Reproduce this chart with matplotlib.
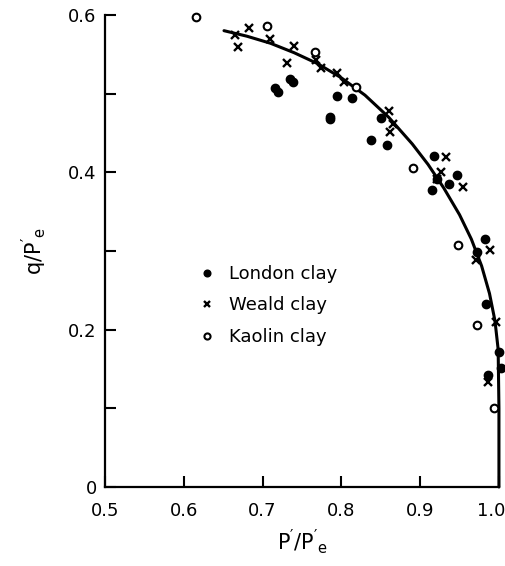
import matplotlib
matplotlib.use("Agg")
from matplotlib import pyplot as plt
from matplotlib.transforms import ScaledTranslation

# data (p'/pe', q/pe')
london_x = [0.716, 0.720, 0.735, 0.739, 0.794, 0.786, 0.814, 0.785, 0.850, 0.838, 0.858,
            0.917, 0.947, 0.937, 0.915, 0.921, 0.982, 0.972, 0.984, 1.000, 1.003, 0.986]
london_y = [0.507, 0.502, 0.519, 0.515, 0.497, 0.470, 0.494, 0.468, 0.469, 0.441, 0.435,
            0.421, 0.396, 0.385, 0.378, 0.392, 0.315, 0.299, 0.233, 0.171, 0.151, 0.142]

weald_x = [0.665, 0.669, 0.683, 0.709, 0.740, 0.731, 0.768, 0.774, 0.794, 0.803, 0.860,
           0.865, 0.862, 0.933, 0.926, 0.921, 0.955, 0.989, 0.971, 0.996, 0.986]
weald_y = [0.575, 0.559, 0.583, 0.570, 0.560, 0.539, 0.543, 0.532, 0.526, 0.515, 0.478,
           0.461, 0.451, 0.420, 0.401, 0.392, 0.381, 0.301, 0.289, 0.210, 0.133]

kaolin_x = [0.616, 0.706, 0.766, 0.819, 0.891, 0.948, 0.972, 0.994]
kaolin_y = [0.598, 0.586, 0.553, 0.509, 0.406, 0.307, 0.206, 0.100]

# state boundary curve
curve_x = [0.651, 0.680, 0.710, 0.740, 0.770, 0.800, 0.830, 0.860, 0.890, 0.910, 0.930,
           0.950, 0.965, 0.978, 0.988, 0.995, 0.999, 1.000, 1.000]
curve_y = [0.580, 0.573, 0.564, 0.552, 0.538, 0.520, 0.498, 0.470, 0.436, 0.410, 0.380,
           0.346, 0.315, 0.281, 0.246, 0.211, 0.175, 0.100, 0.000]

fig = plt.figure(figsize=(5.05, 5.66), dpi=100)
ax = fig.add_axes([0.208, 0.1396, 0.780, 0.834])

ax.plot(curve_x, curve_y, color="black", lw=2.2, solid_capstyle="round",
        solid_joinstyle="round", clip_on=False)
ax.plot(london_x, london_y, "o", color="black", ms=6, clip_on=False, label="London clay")
ax.plot(weald_x, weald_y, "x", color="black", ms=5.5, mew=1.7, clip_on=False, label="Weald clay")
ax.plot(kaolin_x, kaolin_y, "o", mfc="white", mec="black", ms=5.5, mew=1.5, clip_on=False,
        label="Kaolin clay")

ax.set_xlim(0.5, 1.0)
ax.set_ylim(0, 0.6)
for s in ["top", "right"]:
    ax.spines[s].set_visible(False)
for s in ["left", "bottom"]:
    ax.spines[s].set_linewidth(1.6)

ax.set_xticks([0.5, 0.6, 0.7, 0.8, 0.9, 1.0])
ax.set_xticklabels(["0.5", "0.6", "0.7", "0.8", "0.9", "1.0"])
ax.set_yticks([0, 0.2, 0.4, 0.6])
ax.set_yticklabels(["0", "0.2", "0.4", "0.6"])
ax.set_yticks([0.1, 0.3, 0.5], minor=True)
ax.tick_params(which="both", direction="in", length=8, width=1.5, labelsize=13, pad=6)
ax.tick_params(axis="x", pad=11)

# keep the last x label inside the figure
last = ax.get_xticklabels()[-1]
last.set_horizontalalignment("right")
last.set_transform(last.get_transform() + ScaledTranslation(6 / 100, 0, fig.dpi_scale_trans))

ax.set_xlabel(r"$\mathregular{P'/P'_e}$", fontsize=15, labelpad=5)
ax.set_ylabel(r"$\mathregular{q/P'_e}$", fontsize=15, labelpad=14)

ax.legend(loc="upper left", bbox_to_anchor=(0.2, 0.505), frameon=False, fontsize=13,
          handlelength=0.8, handletextpad=0.8, labelspacing=0.75, markerscale=0.8)

fig.savefig("out.png", dpi=100)
